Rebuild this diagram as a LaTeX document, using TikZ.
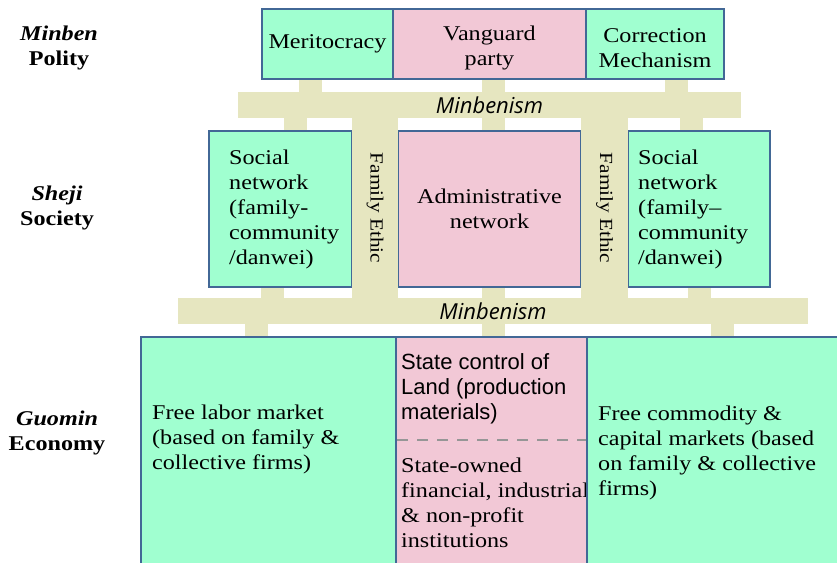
\documentclass[tikz,border=0pt]{standalone}
\usepackage{fontspec}
\setmainfont{Liberation Serif}[FakeStretch=1.15]
\newfontfamily\arialf{Liberation Sans}
\newfontfamily\minbf{Open Sans}
\definecolor{grn}{RGB}{160,255,208}
\definecolor{pnk}{RGB}{242,200,214}
\definecolor{bge}{RGB}{230,230,192}
\definecolor{bord}{RGB}{66,104,150}
\definecolor{dgray}{RGB}{150,150,150}
\pgfdeclarelayer{bg}
\pgfsetlayers{bg,main}
\tikzset{
  box/.style={draw=bord, line width=1.5pt, inner sep=0pt, align=center, font=\fontsize{21}{25}\selectfont},
  gbox/.style={box, fill=grn},
  pbox/.style={box, fill=pnk},
  barbox/.style={fill=bge, inner sep=0pt, font=\minbf\itshape\fontsize{22}{24}\selectfont},
  famthic/.style={fill=bge, inner sep=0pt, rotate=-90, font=\fontsize{18.5}{22}\selectfont},
  stub/.style={draw=bge, line width=23pt},
  txt/.style={inner sep=0pt, align=left, anchor=west, font=\fontsize{21}{25}\selectfont},
  ctxt/.style={inner sep=0pt, align=center, font=\fontsize{21}{25}\selectfont},
  stxt/.style={inner sep=0pt, align=left, anchor=west, font=\arialf\fontsize{22}{25}\selectfont},
  lvl/.style={inner sep=0pt, align=center, font=\bfseries\fontsize{21}{25}\selectfont},
  dline/.style={draw=dgray, line width=2pt, dash pattern=on 11pt off 9pt},
}
\begin{document}
\begin{tikzpicture}[x=1pt,y=-1pt]
\useasboundingbox (0,0) rectangle (837,562);
% level labels
\node[lvl] (l1) at (59,48) {\textit{Minben}\\Polity};
\node[lvl] (l2) at (57,207.5) {\textit{Sheji}\\Society};
\node[lvl] (l3) at (57,433) {\textit{Guomin}\\Economy};
% top row
\node[gbox, minimum width=131, minimum height=70] (merit) at (327.5,44) {Meritocracy};
\node[pbox, minimum width=193, minimum height=70] (vang) at (489.5,44) {};
\node[gbox, minimum width=138, minimum height=70] (corr) at (655,44) {};
\node[ctxt] (vangt) at (489.5,48) {Vanguard\\party};
\node[ctxt] (corrt) at (655,48) {Correction\\Mechanism};
% middle row
\node[gbox, minimum width=143, minimum height=156] (soc1) at (280.5,209) {};
\node[pbox, minimum width=183, minimum height=156] (admin) at (489.5,209) {Administrative\\network};
\node[gbox, minimum width=142, minimum height=156] (soc2) at (699,209) {};
\node[txt] (soc1t) at (229,209) {Social\\network\\(family-\\community\\/danwei)};
\node[txt] (soc2t) at (638,209) {Social\\network\\(family–\\community\\/danwei)};
% bottom row
\node[gbox, minimum width=255, minimum height=240] (labor) at (268.5,457) {};
\node[pbox, minimum width=191, minimum height=240] (state) at (491.5,457) {};
\node[txt] (labort) at (152,439) {Free labor market\\(based on family \&\\collective firms)};
\node[stxt] (statet1) at (401,389) {State control of\\Land (production\\materials)};
\node[txt] (statet2) at (401,503) {State-owned\\financial, industrial\\\& non-profit\\institutions};
\draw[dline] (state.west |- 0,440) ++(2,0) coordinate (d1) -- (state.east |- 0,440) coordinate (d2);
\node[gbox, minimum width=258, minimum height=240] (commod) at (716,457) {};
\node[txt] (commodt) at (598,452.5) {Free commodity \&\\capital markets (based\\on family \& collective\\firms)};
% bars
\node[barbox, minimum width=503, minimum height=26] (bar1) at (489.5,105) {Minbenism};
\node[barbox, minimum width=630, minimum height=26] (bar2) at (493,311) {Minbenism};
\node[famthic, minimum width=180, minimum height=46] (fe1) at (375,208) {Family Ethic};
\node[famthic, minimum width=180, minimum height=47] (fe2) at (604.5,208) {Family Ethic};
% stubs
\begin{pgfonlayer}{bg}
\draw[stub] (merit.south -| 310,0) -- (bar1.north -| 310,0);
\draw[stub] (vang.south -| 493.5,0) -- (bar1.north -| 493.5,0);
\draw[stub] (corr.south -| 676.5,0) -- (bar1.north -| 676.5,0);
\draw[stub] (bar1.south -| 295,0) -- (soc1.north -| 295,0);
\draw[stub] (bar1.south -| 493.5,0) -- (admin.north -| 493.5,0);
\draw[stub] (bar1.south -| 691.5,0) -- (soc2.north -| 691.5,0);
\draw[stub] (soc1.south -| 272.5,0) -- (bar2.north -| 272.5,0);
\draw[stub] (admin.south -| 493.5,0) -- (bar2.north -| 493.5,0);
\draw[stub] (soc2.south -| 699,0) -- (bar2.north -| 699,0);
\draw[stub] (bar2.south -| 256.5,0) -- (labor.north -| 256.5,0);
\draw[stub] (bar2.south -| 493.5,0) -- (state.north -| 493.5,0);
\draw[stub] (bar2.south -| 722,0) -- (commod.north -| 722,0);
\end{pgfonlayer}
\end{tikzpicture}
\end{document}
